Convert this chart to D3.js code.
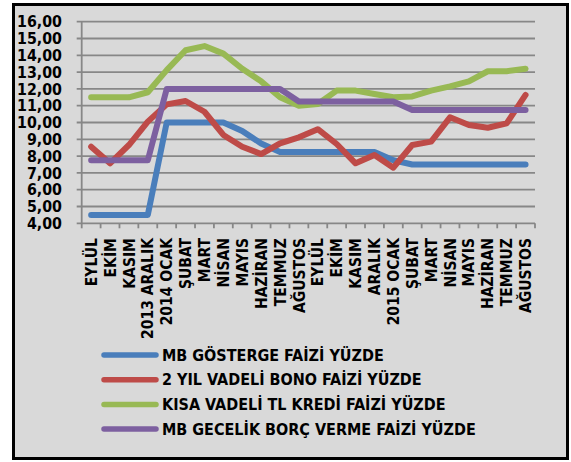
<!DOCTYPE html>
<html>
<head>
<meta charset="utf-8">
<script src="https://cdn.jsdelivr.net/npm/d3@7"></script>
<style>
  body { margin: 0; background: #fff; }
  text { font-family: "DejaVu Sans Condensed", "DejaVu Sans", sans-serif; font-stretch: condensed; font-weight: bold; fill: #000; }
</style>
</head>
<body>
<svg id="chart"></svg>
<script>
var width = 571;
var height = 462;

var months = ["EYLÜL", "EKİM", "KASIM", "2013 ARALIK", "2014 OCAK", "ŞUBAT", "MART", "NİSAN",
  "MAYIS", "HAZİRAN", "TEMMUZ", "AĞUSTOS", "EYLÜL", "EKİM", "KASIM", "ARALIK",
  "2015 OCAK", "ŞUBAT", "MART", "NİSAN", "MAYIS", "HAZİRAN", "TEMMUZ", "AĞUSTOS"];

var yTicks = [4, 5, 6, 7, 8, 9, 10, 11, 12, 13, 14, 15, 16];

var gosterge = [4.5, 4.5, 4.5, 4.5, 10, 10, 10, 10, 9.5, 8.75, 8.25, 8.25,
  8.25, 8.25, 8.25, 8.25, 7.75, 7.5, 7.5, 7.5, 7.5, 7.5, 7.5, 7.5];
var bono = [8.56, 7.57, 8.66, 10.05, 11.08, 11.28, 10.64, 9.26, 8.56, 8.12, 8.76, 9.12,
  9.6, 8.72, 7.57, 8.07, 7.31, 8.66, 8.86, 10.31, 9.85, 9.69, 9.95, 11.64];
var kredi = [11.5, 11.5, 11.5, 11.8, 13.12, 14.3, 14.55, 14.1, 13.2, 12.45, 11.5, 11.0,
  11.1, 11.9, 11.9, 11.7, 11.5, 11.55, 11.9, 12.15, 12.45, 13.05, 13.05, 13.2];
var gecelik = [7.75, 7.75, 7.75, 7.75, 12, 12, 12, 12, 12, 12, 12, 11.25,
  11.25, 11.25, 11.25, 11.25, 11.25, 10.75, 10.75, 10.75, 10.75, 10.75, 10.75, 10.75];

var seriesNames = ["MB GÖSTERGE FAİZİ YÜZDE", "2 YIL VADELİ BONO FAİZİ YÜZDE",
  "KISA VADELİ TL KREDİ FAİZİ YÜZDE", "MB GECELİK BORÇ VERME FAİZİ YÜZDE"];
var seriesColors = ["#4a7ebb", "#be4b48", "#98b954", "#7d60a0"];
var seriesData = [gosterge, bono, kredi, gecelik];

// plot area edges (named so they don't clash with window.top)
var plotLeft = 81.7, plotRight = 535, plotTop = 21.7, plotBottom = 223.3;

var svg = d3.select("#chart")
  .attr("width", width)
  .attr("height", height);

// frame
svg.append("rect")
  .attr("x", 13.5).attr("y", 4.5)
  .attr("width", 554).attr("height", 454)
  .attr("fill", "#d9d9d9")
  .attr("stroke", "#000")
  .attr("stroke-width", 3);

var xScale = d3.scaleBand()
  .domain(d3.range(months.length))
  .range([plotLeft, plotRight]);

var yScale = d3.scaleLinear()
  .domain([4, 16])
  .range([plotBottom, plotTop]);

// grid
svg.append("g")
  .selectAll("line")
  .data(yTicks)
  .enter()
  .append("line")
    .attr("x1", plotLeft - 5)
    .attr("x2", plotRight)
    .attr("y1", d => yScale(d))
    .attr("y2", d => yScale(d))
    .attr("stroke", "#878787")
    .attr("stroke-width", 1.8);

// y axis line
svg.append("line")
  .attr("x1", plotLeft).attr("x2", plotLeft)
  .attr("y1", plotTop).attr("y2", plotBottom)
  .attr("stroke", "#878787").attr("stroke-width", 1.8);

// x ticks
svg.append("g")
  .selectAll("line")
  .data(d3.range(months.length + 1))
  .enter()
  .append("line")
    .attr("x1", d => plotLeft + d * xScale.step())
    .attr("x2", d => plotLeft + d * xScale.step())
    .attr("y1", plotBottom)
    .attr("y2", plotBottom + 5)
    .attr("stroke", "#878787")
    .attr("stroke-width", 1.8);

// y labels
svg.append("g")
  .selectAll("text")
  .data(yTicks)
  .enter()
  .append("text")
    .attr("x", 62)
    .attr("y", d => yScale(d))
    .attr("dy", "0.36em")
    .style("text-anchor", "end")
    .style("font-size", "15.8px")
    .text(d => d3.format(".2f")(d).replace(".", ","));

// x labels
svg.append("g")
  .selectAll("text")
  .data(months)
  .enter()
  .append("text")
    .attr("transform", (d, i) => "translate(" + (xScale(i) + xScale.bandwidth() / 2) + ",238) rotate(-90)")
    .attr("dy", "0.36em")
    .style("text-anchor", "end")
    .style("font-size", "15.5px")
    .text(d => d);

var line = d3.line()
  .x((d, i) => xScale(i) + xScale.bandwidth() / 2)
  .y(d => yScale(d));

svg.append("g")
  .selectAll("path")
  .data(seriesData)
  .enter()
  .append("path")
    .attr("d", d => line(d))
    .attr("fill", "none")
    .attr("stroke", (d, i) => seriesColors[i])
    .attr("stroke-width", 6)
    .attr("stroke-linejoin", "round")
    .attr("stroke-linecap", "round");

// legend
var legend = svg.append("g")
  .selectAll("g")
  .data(seriesNames)
  .enter()
  .append("g")
    .attr("transform", (d, i) => "translate(0," + (355 + i * 24.7) + ")");

legend.append("line")
  .attr("x1", 104).attr("x2", 156)
  .attr("y1", 0).attr("y2", 0)
  .attr("stroke", (d, i) => seriesColors[i])
  .attr("stroke-width", 5.5)
  .attr("stroke-linecap", "round");

legend.append("text")
  .attr("x", 162)
  .attr("y", 0)
  .attr("dy", "0.36em")
  .style("font-size", "16px")
  .text(d => d);
</script>
</body>
</html>
